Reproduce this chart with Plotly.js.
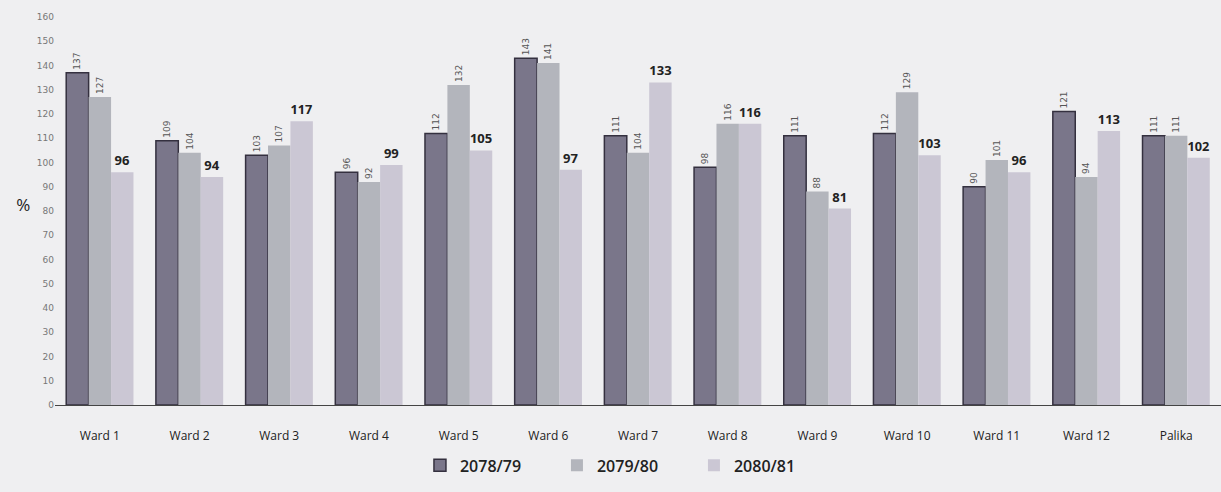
<!DOCTYPE html>
<html><head><meta charset="utf-8">
<script src="https://cdn.plot.ly/plotly-3.0.1.min.js"></script>
<style>html,body{margin:0;padding:0;background:#efeff1;}#chart{width:1221px;height:492px;}</style>
</head><body><div id="chart"></div>
<script>
const categories = ["Ward 1","Ward 2","Ward 3","Ward 4","Ward 5","Ward 6","Ward 7","Ward 8","Ward 9","Ward 10","Ward 11","Ward 12","Palika"];
const s2078 = [137,109,103,96,112,143,111,98,111,112,90,121,111];
const s2079 = [127,104,107,92,132,141,104,116,88,129,101,94,111];
const s2080 = [96,94,117,99,105,97,133,116,81,103,96,113,102];
const seriesNames = ["2078/79","2079/80","2080/81"];
const yTicks = [0,10,20,30,40,50,60,70,80,90,100,110,120,130,140,150,160];

const traces = [
 {type:'bar', name:seriesNames[0], x:categories, y:s2078, text:s2078.map(String),
  textposition:'outside', textangle:-90, cliponaxis:false,
  textfont:{family:'DejaVu Sans, sans-serif', size:9, color:'#555'},
  marker:{color:'#7a768a', line:{color:'#34303f', width:1.5}}},
 {type:'bar', name:seriesNames[1], x:categories, y:s2079, text:s2079.map(String),
  textposition:'outside', textangle:-90, cliponaxis:false,
  textfont:{family:'DejaVu Sans, sans-serif', size:9, color:'#555'},
  marker:{color:'#b3b5bc', line:{width:0}}},
 {type:'bar', name:seriesNames[2], x:categories, y:s2080, text:s2080.map(String),
  textposition:'outside', textangle:0, cliponaxis:false,
  textfont:{family:'Open Sans, sans-serif', size:13, color:'#222', weight:'bold'},
  marker:{color:'#cbc7d4', line:{width:0}}}
];

const layout = {
 width:1221, height:492,
 paper_bgcolor:'#efeff1', plot_bgcolor:'#efeff1',
 margin:{l:55, r:0, t:17, b:87},
 barmode:'group', bargap:0.25, bargroupgap:0,
 showlegend:true,
 legend:{orientation:'h', x:0.313, xanchor:'left', y:-0.112, yanchor:'top',
   entrywidth:92, entrywidthmode:'pixels',
   font:{family:'Open Sans, sans-serif', size:16, color:'#222', weight:600}, itemwidth:30, tracegroupgap:0},
 xaxis:{type:'category', showline:true, linecolor:'#444', linewidth:1, ticks:'', ticklabelstandoff:20,
   tickfont:{family:'Open Sans, sans-serif', size:12, color:'#222'}, showgrid:false},
 yaxis:{range:[0,160], tickvals:yTicks, ticktext:yTicks.map(String), showgrid:false, zeroline:false,
   showline:false, ticks:'', tickfont:{family:'DejaVu Sans, sans-serif', size:9, color:'#777'},
   title:{text:'%', font:{family:'Open Sans, sans-serif', size:17, color:'#222'}, standoff:8}},
 font:{family:'Open Sans, sans-serif'}
};
Plotly.newPlot('chart', traces, layout, {displayModeBar:false, staticPlot:true}).then(()=>{
  const t = document.querySelector('.ytitle');
  if (t) { const x = t.getAttribute('x'), y = t.getAttribute('y'); t.setAttribute('transform','rotate(0,'+x+','+y+')'); }
});
</script></body></html>
